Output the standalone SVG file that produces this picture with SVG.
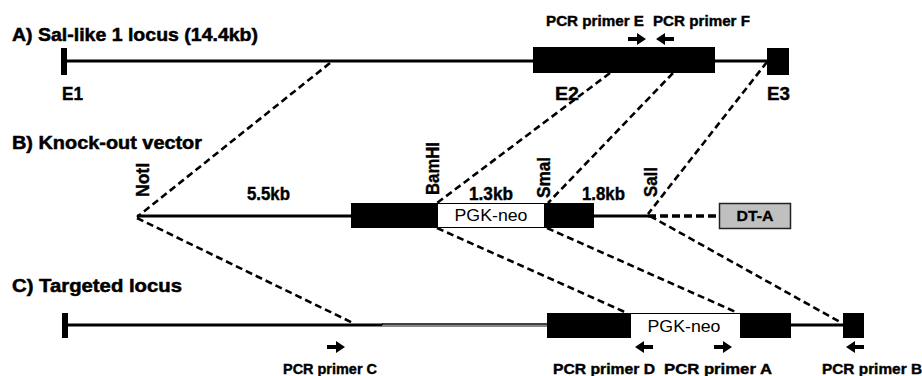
<svg xmlns="http://www.w3.org/2000/svg" width="922" height="376" viewBox="0 0 922 376">
<style>
text{font-family:"Liberation Sans",Arial,sans-serif;fill:#000}
.t{font-weight:bold;font-size:18px;stroke:#000;stroke-width:0.5}
.p{font-weight:bold;font-size:15px;stroke:#000;stroke-width:0.4}
.s{font-weight:bold;font-size:18px;stroke:#000;stroke-width:0.4}
.n{font-size:17px}
.ln{stroke:#000;stroke-width:3.2;fill:none}
.ds{stroke:#000;stroke-width:2.6;stroke-dasharray:7 4;fill:none}
.blk{fill:#000}
</style>
<defs>
<path id="ar" d="M-9,-2 H0 V-6 L9,0 L0,6 V2 H-9 Z" fill="#000"/>
</defs>
<rect width="922" height="376" fill="#fff"/>
<g id="connectors">
<line class="ds" x1="330" y1="63" x2="137" y2="217"/>
<line class="ds" x1="610" y1="73" x2="437" y2="203"/>
<line class="ds" x1="673" y1="73" x2="548" y2="203"/>
<line class="ds" x1="767" y1="62" x2="648" y2="214"/>
<line class="ds" x1="137" y1="218" x2="353" y2="323"/>
<line class="ds" x1="437" y1="228" x2="627" y2="313"/>
<line class="ds" x1="547" y1="228" x2="738" y2="313"/>
<line class="ds" x1="650" y1="216" x2="840" y2="322"/>
</g>
<g id="titles">
<text class="t" x="12" y="41" textLength="246" lengthAdjust="spacingAndGlyphs">A) Sal-like 1 locus (14.4kb)</text>
<text class="t" x="12" y="149" textLength="190" lengthAdjust="spacingAndGlyphs">B) Knock-out vector</text>
<text class="t" x="12" y="292" textLength="170" lengthAdjust="spacingAndGlyphs">C) Targeted locus</text>
</g>
<g id="locusA">
<line class="ln" x1="62" y1="61" x2="767" y2="61"/>
<rect class="blk" x="61" y="48" width="6" height="27"/>
<rect class="blk" x="533" y="47" width="182" height="26"/>
<rect class="blk" x="767" y="48" width="22" height="27"/>
<text class="s" x="62" y="100" textLength="21" lengthAdjust="spacingAndGlyphs">E1</text>
<text class="s" x="555" y="100" textLength="24" lengthAdjust="spacingAndGlyphs">E2</text>
<text class="s" x="767" y="100" textLength="23" lengthAdjust="spacingAndGlyphs">E3</text>
</g>
<g id="primerE">
<text class="p" x="546" y="26" textLength="98" lengthAdjust="spacingAndGlyphs">PCR primer E</text>
<use href="#ar" transform="translate(637,39)"/>
</g>
<g id="primerF">
<text class="p" x="653" y="26" textLength="97" lengthAdjust="spacingAndGlyphs">PCR primer F</text>
<use href="#ar" transform="translate(665,39) scale(-1,1)"/>
</g>
<g id="vectorB">
<line class="ln" x1="137" y1="216" x2="352" y2="216"/>
<line class="ln" x1="593" y1="216" x2="648" y2="216"/>
<line x1="648" y1="216" x2="719" y2="216" stroke="#000" stroke-width="3.5" stroke-dasharray="8 4"/>
<rect class="blk" x="351" y="203" width="86" height="25"/>
<rect x="437.5" y="203.5" width="107" height="24" fill="#fff" stroke="#000" stroke-width="1"/>
<text class="n" x="491" y="221" text-anchor="middle" textLength="73" lengthAdjust="spacingAndGlyphs">PGK-neo</text>
<rect class="blk" x="544" y="203" width="50" height="25"/>
<text class="s" x="247" y="200" textLength="43" lengthAdjust="spacingAndGlyphs">5.5kb</text>
<text class="s" x="469" y="200" textLength="44" lengthAdjust="spacingAndGlyphs">1.3kb</text>
<text class="s" x="582" y="200" textLength="43" lengthAdjust="spacingAndGlyphs">1.8kb</text>
<text class="s" transform="translate(149,197) rotate(-90)" textLength="34" lengthAdjust="spacingAndGlyphs">NotI</text>
<text class="s" transform="translate(439,195) rotate(-90)" textLength="53" lengthAdjust="spacingAndGlyphs">BamHI</text>
<text class="s" transform="translate(550,198) rotate(-90)" textLength="41" lengthAdjust="spacingAndGlyphs">SmaI</text>
<text class="s" transform="translate(657,197) rotate(-90)" textLength="30" lengthAdjust="spacingAndGlyphs">SalI</text>
</g>
<g id="dtA">
<rect x="719.5" y="203.5" width="71" height="25" fill="#c0c0c0" stroke="#222" stroke-width="1.5"/>
<text x="755" y="221" text-anchor="middle" font-weight="bold" font-size="15" stroke="#000" stroke-width="0.3" textLength="37" lengthAdjust="spacingAndGlyphs">DT-A</text>
</g>
<g id="locusC">
<line class="ln" x1="62" y1="325" x2="383" y2="325"/>
<line x1="382" y1="324" x2="548" y2="324" stroke="#000" stroke-width="1.6"/>
<line x1="382" y1="326" x2="548" y2="326" stroke="#888" stroke-width="1.8"/>
<rect class="blk" x="62" y="313" width="6" height="25"/>
<rect class="blk" x="547" y="313" width="84" height="25"/>
<line x1="625" y1="313.5" x2="740" y2="313.5" stroke="#000" stroke-width="1"/>
<text class="n" x="684" y="332" text-anchor="middle" textLength="73" lengthAdjust="spacingAndGlyphs">PGK-neo</text>
<rect class="blk" x="740" y="313" width="51" height="25"/>
<line class="ln" x1="790" y1="325" x2="844" y2="325"/>
<rect class="blk" x="843" y="313" width="21" height="25"/>
</g>
<g id="primerC">
<use href="#ar" transform="translate(336,347)"/>
<text class="p" x="283" y="374" textLength="94" lengthAdjust="spacingAndGlyphs">PCR primer C</text>
</g>
<g id="primerD">
<use href="#ar" transform="translate(644,347) scale(-1,1)"/>
<text class="p" x="553" y="374" textLength="102" lengthAdjust="spacingAndGlyphs">PCR primer D</text>
</g>
<g id="primerA">
<use href="#ar" transform="translate(723,347)"/>
<text class="p" x="664" y="374" textLength="108" lengthAdjust="spacingAndGlyphs">PCR primer A</text>
</g>
<g id="primerB">
<use href="#ar" transform="translate(855,347) scale(-1,1)"/>
<text class="p" x="822" y="374" textLength="100" lengthAdjust="spacingAndGlyphs">PCR primer B</text>
</g>
</svg>
